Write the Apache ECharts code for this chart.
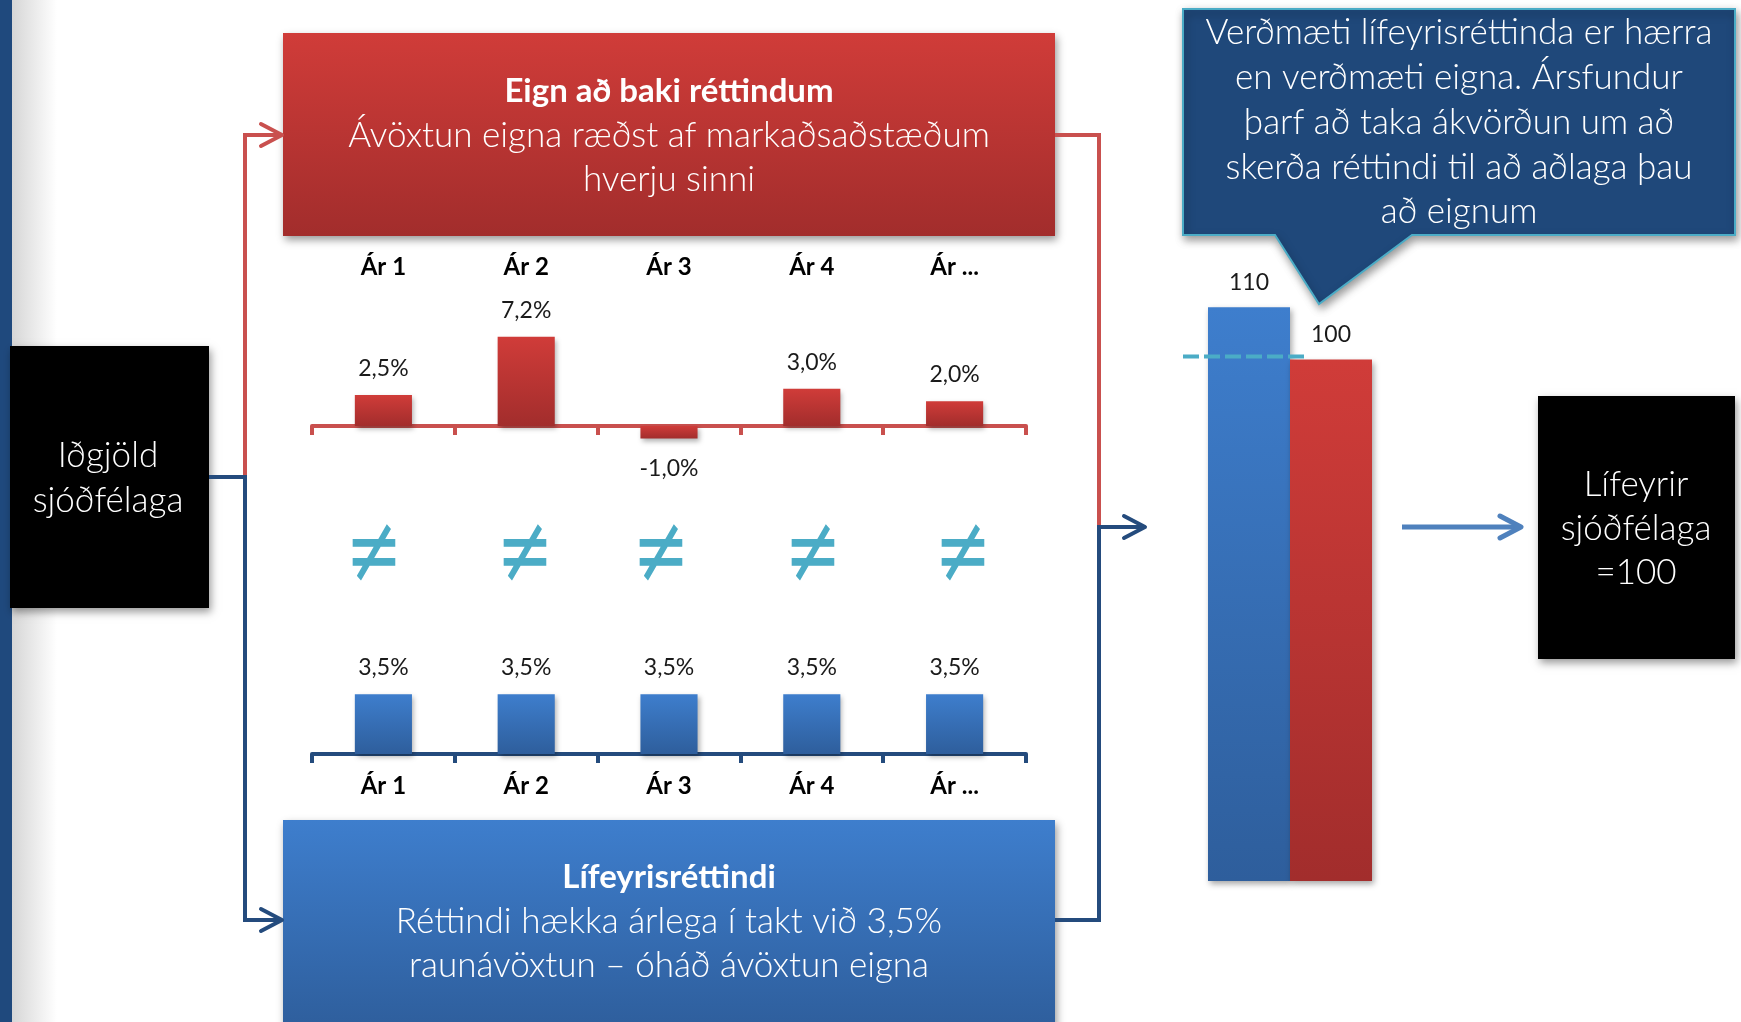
<!DOCTYPE html>
<html>
<head>
<meta charset="utf-8">
<script src="https://cdn.jsdelivr.net/npm/echarts@6/dist/echarts.min.js"></script>
<style>
html,body{margin:0;padding:0;background:#fff;}
#chart{width:1741px;height:1022px;}
</style>
</head>
<body>
<div id="chart"></div>
<script>
// ---- data ----
const yearLabels = ['Ár 1', 'Ár 2', 'Ár 3', 'Ár 4', 'Ár ...'];
const assetReturns = [2.5, 7.2, -1.0, 3.0, 2.0];
const rightsReturns = [3.5, 3.5, 3.5, 3.5, 3.5];
const valueCategories = ['Lífeyrisréttindi', 'Eignir'];
const valueAmounts = [110, 100];
const pensionLevel = 100;

const FONT = 'Lato, "Open Sans", sans-serif';
const RED = '#c9504e';
const DBLUE = '#244b7d';
const MBLUE = '#4f81bd';
const CYAN = '#4bacc6';

function grad(c1, c2) {
  return {type: 'linear', x: 0, y: 0, x2: 0, y2: 1,
    colorStops: [{offset: 0, color: c1}, {offset: 1, color: c2}]};
}
const redGrad = grad('#d03c39', '#a22d2c');
const blueGrad = grad('#3e7ecd', '#2e5e9c');
const pct = v => v.toFixed(1).replace('.', ',') + '%';

const chart = echarts.init(document.getElementById('chart'));

const option = {
  animation: false,
  backgroundColor: '#ffffff',
  grid: [
    {left: 312, width: 714, top: 302, height: 148.8},
    {left: 312, width: 714, top: 668.5, height: 85.5},
    {left: 1208, width: 164, top: 255.2, height: 625.8}
  ],
  xAxis: [
    {type: 'category', gridIndex: 0, data: yearLabels,
      axisLine: {onZero: true, lineStyle: {color: RED, width: 4}},
      axisTick: {show: true, length: 9, lineStyle: {color: RED, width: 4}},
      axisLabel: {show: false}},
    {type: 'category', gridIndex: 0, position: 'top', data: yearLabels,
      axisLine: {show: false}, axisTick: {show: false},
      axisLabel: {margin: 23, color: '#000', fontSize: 24, fontWeight: 'bold', fontFamily: FONT}},
    {type: 'category', gridIndex: 1, data: yearLabels,
      axisLine: {lineStyle: {color: DBLUE, width: 4}},
      axisTick: {show: true, length: 9, lineStyle: {color: DBLUE, width: 4}},
      axisLabel: {margin: 20, color: '#000', fontSize: 24, fontWeight: 'bold', fontFamily: FONT}},
    {type: 'category', gridIndex: 2, data: valueCategories, show: false}
  ],
  yAxis: [
    {type: 'value', gridIndex: 0, min: -2, max: 10, show: false},
    {type: 'value', gridIndex: 1, min: 0, max: 5, show: false},
    {type: 'value', gridIndex: 2, min: 0, max: 120, show: false}
  ],
  series: [
    {type: 'bar', xAxisIndex: 0, yAxisIndex: 0, barWidth: '40%',
      data: assetReturns.map(v => ({value: v, label: v < 0 ? {position: 'bottom', distance: 19} : {position: 'top'}})),
      itemStyle: {color: redGrad, shadowBlur: 5, shadowOffsetX: 2, shadowOffsetY: 3, shadowColor: 'rgba(0,0,0,0.3)'},
      label: {show: true, distance: 15, color: '#1a1a1a', fontSize: 23, fontFamily: FONT,
        formatter: p => pct(p.value)}},
    {type: 'bar', xAxisIndex: 2, yAxisIndex: 1, barWidth: '40%',
      data: rightsReturns,
      itemStyle: {color: blueGrad, shadowBlur: 5, shadowOffsetX: 2, shadowOffsetY: 3, shadowColor: 'rgba(0,0,0,0.3)'},
      label: {show: true, position: 'top', distance: 15, color: '#1a1a1a', fontSize: 23, fontFamily: FONT,
        formatter: p => pct(p.value)}},
    {type: 'bar', xAxisIndex: 3, yAxisIndex: 2, barWidth: '100%',
      data: valueAmounts.map((v, i) => ({value: v, itemStyle: {color: i === 0 ? blueGrad : redGrad}})),
      itemStyle: {shadowBlur: 6, shadowOffsetX: 2, shadowOffsetY: 3, shadowColor: 'rgba(0,0,0,0.35)'},
      label: {show: true, position: 'top', distance: 13, color: '#1a1a1a', fontSize: 23, fontFamily: FONT}}
  ]
};
chart.setOption(option);

// ---- decorations ----
const shadow = {shadowBlur: 8, shadowOffsetX: 2, shadowOffsetY: 4, shadowColor: 'rgba(0,0,0,0.4)'};
function txt(text, x, y, size, weight, fill, family) {
  return {type: 'text', z: 20, style: {text: text, x: x, y: y, align: 'center', verticalAlign: 'middle',
    fontSize: size, fontWeight: weight || 'normal', fontFamily: family || FONT, fill: fill || '#fff'}};
}
function chevron(tx, ty, color, w) {
  return {type: 'polyline', z: 5, shape: {points: [[tx - 21, ty - 11], [tx, ty], [tx - 21, ty + 11]]},
    style: {stroke: color, lineWidth: w || 4, fill: null, lineCap: 'round', lineJoin: 'round'}};
}
const levelY = chart.convertToPixel({yAxisIndex: 2}, pensionLevel);

const neqX = [374, 525, 661, 813, 963];
const LT = 35;

const graphics = [
  // slide edge
  {type: 'rect', z: 1, shape: {x: 12, y: 0, width: 45, height: 1022},
    style: {fill: {type: 'linear', x: 0, y: 0, x2: 1, y2: 0,
      colorStops: [{offset: 0, color: '#d6d6d6'}, {offset: 1, color: '#ffffff'}]}}},
  {type: 'rect', z: 2, shape: {x: 0, y: 0, width: 12, height: 1022}, style: {fill: '#1f497d'}},
  // left black box
  {type: 'rect', z: 3, shape: {x: 10, y: 346, width: 199, height: 262}, style: Object.assign({fill: '#000'}, shadow)},
  txt('Iðgjöld', 108, 456, LT, 300),
  txt('sjóðfélaga', 108, 501, LT, 300),
  // red box
  {type: 'rect', z: 3, shape: {x: 283, y: 33, width: 772, height: 203}, style: Object.assign({fill: redGrad}, shadow)},
  txt('Eign að baki réttindum', 669, 91, 33, 'bold'),
  txt('Ávöxtun eigna ræðst af markaðsaðstæðum', 669, 136, LT, 300),
  txt('hverju sinni', 669, 180, LT, 300),
  // blue box
  {type: 'rect', z: 3, shape: {x: 283, y: 820, width: 772, height: 210}, style: Object.assign({fill: blueGrad}, shadow)},
  txt('Lífeyrisréttindi', 669, 877, 33, 'bold'),
  txt('Réttindi hækka árlega í takt við 3,5%', 669, 922, LT, 300),
  txt('raunávöxtun – óháð ávöxtun eigna', 669, 966, LT, 300),
  // connector lines
  {type: 'polyline', z: 4, shape: {points: [[245, 477], [245, 135], [280, 135]]},
    style: {stroke: RED, lineWidth: 4, fill: null}},
  chevron(282, 135, RED),
  {type: 'polyline', z: 4, shape: {points: [[209, 477], [245, 477], [245, 920], [280, 920]]},
    style: {stroke: DBLUE, lineWidth: 4, fill: null}},
  chevron(282, 920, DBLUE),
  {type: 'polyline', z: 4, shape: {points: [[1055, 135], [1099, 135], [1099, 527]]},
    style: {stroke: RED, lineWidth: 4, fill: null}},
  {type: 'polyline', z: 4, shape: {points: [[1055, 920], [1099, 920], [1099, 527], [1143, 527]]},
    style: {stroke: DBLUE, lineWidth: 4, fill: null}},
  chevron(1145, 527, DBLUE),
  // right arrow
  {type: 'line', z: 4, shape: {x1: 1402, y1: 527, x2: 1518, y2: 527}, style: {stroke: MBLUE, lineWidth: 5}},
  chevron(1521, 527, MBLUE, 5),
  // right black box
  {type: 'rect', z: 3, shape: {x: 1538, y: 396, width: 197, height: 263}, style: Object.assign({fill: '#000'}, shadow)},
  txt('Lífeyrir', 1636, 485, LT, 300),
  txt('sjóðfélaga', 1636, 529, LT, 300),
  txt('=100', 1636, 573, LT, 300),
  // callout
  {type: 'polygon', z: 3, shape: {points: [[1183, 9], [1735, 9], [1735, 235], [1412, 235], [1319, 304], [1275, 235], [1183, 235]]},
    style: Object.assign({fill: '#1f487a', stroke: CYAN, lineWidth: 2}, shadow)},
  txt('Verðmæti lífeyrisréttinda er hærra', 1459, 33, LT, 300),
  txt('en verðmæti eigna. Ársfundur', 1459, 78, LT, 300),
  txt('þarf að taka ákvörðun um að', 1459, 123, LT, 300),
  txt('skerða réttindi til að aðlaga þau', 1459, 168, LT, 300),
  txt('að eignum', 1459, 212, LT, 300),
  // dashed level line
  {type: 'line', z: 30, shape: {x1: 1183, y1: levelY - 3, x2: 1306, y2: levelY - 3},
    style: {stroke: CYAN, lineWidth: 4, lineDash: [16, 5]}}
];
neqX.forEach(x => {
  const t = txt('≠', 0, 0, 68, 'normal', CYAN, '"DejaVu Sans"');
  t.x = x; t.y = 557; t.scaleY = 1.4;
  graphics.push(t);
});

chart.setOption({graphic: graphics});
</script>
</body>
</html>
